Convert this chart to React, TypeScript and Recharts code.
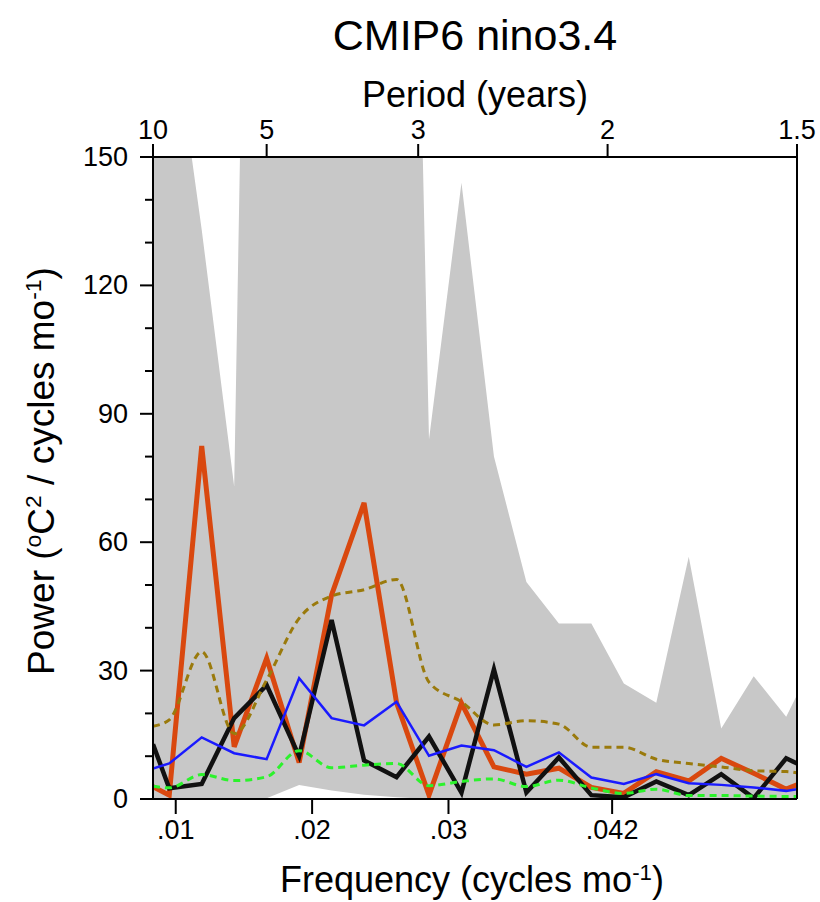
import React from 'react';
import { ComposedChart, Area, Line, XAxis, YAxis } from 'recharts';

const FONT = '"Liberation Sans", Arial, Helvetica, sans-serif';

// frequency in cycles per month, from the 10-yr edge to the 1.5-yr edge
const freq = [
  0.008333, 0.009524, 0.011905, 0.014286, 0.016667, 0.019048, 0.021429, 0.02381,
  0.02619, 0.028571, 0.030952, 0.033333, 0.035714, 0.038095, 0.040476, 0.042857,
  0.045238, 0.047619, 0.05, 0.052381, 0.054762, 0.055556,
];

// model spread (grey band)
const bandLow = [0, 0, 0, 0, 0.2, 3.3, 2, 1, 0.4, 0, 0, 0, 0, 0, 0, 0, 0, 0, 0, 0, 0, 0];
const bandHigh = [
  220, 188, 133, 73, 505, 260, 240, 280, 430, 84, 144, 80, 50.7, 41, 41, 27, 22.5, 56.6,
  16.5, 28.7, 19.2, 24.3,
];

const modelSpec = [
  2.9, 0.9, 82.5, 12.2, 32.9, 8.5, 47.7, 69.2, 22.5, 0.9, 22.4, 7.5, 5.8, 7.2, 2.7, 1.3,
  6.4, 4.2, 9.5, 6.0, 2.3, 3.3,
];
const obsSpec = [
  12.8, 2.5, 3.5, 18.9, 26.6, 10, 41.8, 9, 5.1, 14.6, 1.5, 30.3, 1.5, 9.7, 0.9, 0.4, 4.1,
  0.9, 5.8, 0.2, 9.5, 8.3,
];
const meanSpec = [
  7.1, 8.3, 14.4, 10.7, 9.3, 28.2, 18.9, 17.2, 22.7, 10.1, 12.5, 11.4, 7.5, 10.9, 5.0, 3.5,
  5.8, 3.7, 3.3, 2.7, 1.9, 2.3,
];
const redNoiseUpper = [
  17, 18.5, 34.4, 15.3, 27.8, 42.2, 47.4, 48.9, 51.3, 27.3, 22.7, 17.3, 18.3, 17.5, 12.1,
  12.1, 9.3, 8.3, 7.5, 6.6, 6.4, 6.1,
];
const redNoise = [
  3.0, 2.6, 5.7, 4.3, 5.2, 11.3, 7.3, 7.9, 8.3, 3.1, 4.1, 4.7, 2.9, 4.4, 2.6, 1.3, 2.3,
  0.8, 0.8, 0.7, 0.6, 0.6,
];

const freqTicks = [0.01, 0.02, 0.03, 0.042];
const freqTickLabels = ['.01', '.02', '.03', '.042'];
const periodTicks = [0.008333, 0.016667, 0.027778, 0.041667, 0.055556];
const periodTickLabels = ['10', '5', '3', '2', '1.5'];
const powerTicks = [0, 10, 20, 30, 40, 50, 60, 70, 80, 90, 100, 110, 120, 130, 140, 150];
const powerMajorStep = 30;

const rows = freq.map((f, i) => ({
  f,
  band: [bandLow[i], bandHigh[i]],
  modelSpec: modelSpec[i],
  obsSpec: obsSpec[i],
  meanSpec: meanSpec[i],
  redNoiseUpper: redNoiseUpper[i],
  redNoise: redNoise[i],
}));

const TICK_SIZE = 13;
const TICK_MARGIN = 12;

function PowerTick(props: any) {
  const { x, y, payload } = props;
  const major = payload.value % powerMajorStep === 0;
  const axisX = x + TICK_MARGIN + TICK_SIZE;
  return (
    <g>
      <line
        x1={axisX - (major ? TICK_SIZE : 8)}
        x2={axisX}
        y1={y}
        y2={y}
        stroke="#000"
        strokeWidth={2}
      />
      {major && (
        <text
          x={x}
          y={y}
          textAnchor="end"
          dominantBaseline="central"
          fontSize={27}
          fontFamily={FONT}
          fill="#000"
        >
          {payload.value}
        </text>
      )}
    </g>
  );
}

const sup = { baselineShift: 'super', fontSize: '62%' } as React.CSSProperties;

const topTitles = () => (
  <g fontFamily={FONT} fill="#000">
    <text x={475} y={50} textAnchor="middle" fontSize={43}>
      CMIP6 nino3.4
    </text>
    <text x={475} y={107} textAnchor="middle" fontSize={36}>
      Period (years)
    </text>
  </g>
);

const freqTitle = () => (
  <text x={472} y={892} textAnchor="middle" fontSize={36} fontFamily={FONT} fill="#000">
    Frequency (cycles mo<tspan style={sup}>-1</tspan>)
  </text>
);

const powerTitle = () => (
  <text
    x={54}
    y={471}
    transform="rotate(-90, 54, 471)"
    textAnchor="middle"
    fontSize={37}
    fontFamily={FONT}
    fill="#000"
  >
    Power (<tspan style={sup}>o</tspan>C<tspan style={sup}>2</tspan> / cycles mo
    <tspan style={sup}>-1</tspan>)
  </text>
);

const axisLine = { stroke: '#000', strokeWidth: 2 };
const tickLine = { stroke: '#000', strokeWidth: 2 };
const tickFont = { fontSize: 27, fill: '#000', fontFamily: FONT };

export default function App() {
  return (
    <div style={{ position: 'absolute', left: 0, top: 0, background: '#fff' }}>
      <ComposedChart
        width={820}
        height={902}
        data={rows}
        margin={{ top: 0, right: 22, bottom: 0, left: 0 }}
      >
        <XAxis
          dataKey="f"
          type="number"
          domain={[0.008333, 0.055556]}
          allowDataOverflow
          ticks={freqTicks}
          interval={0}
          tickFormatter={(v: number) => freqTickLabels[freqTicks.indexOf(v)] ?? ''}
          height={103}
          tickSize={15}
          tickMargin={6}
          axisLine={axisLine}
          tickLine={tickLine}
          tick={tickFont}
          label={freqTitle}
        />
        <XAxis
          xAxisId="top"
          orientation="top"
          dataKey="f"
          type="number"
          domain={[0.008333, 0.055556]}
          allowDataOverflow
          ticks={periodTicks}
          interval={0}
          tickFormatter={(v: number) => periodTickLabels[periodTicks.indexOf(v)] ?? ''}
          height={157}
          tickSize={13}
          tickMargin={5}
          axisLine={axisLine}
          tickLine={tickLine}
          tick={tickFont}
          label={topTitles}
        />
        <YAxis
          type="number"
          domain={[0, 150]}
          allowDataOverflow
          ticks={powerTicks}
          interval={0}
          width={153}
          tickSize={TICK_SIZE}
          tickMargin={TICK_MARGIN}
          axisLine={axisLine}
          tickLine={false}
          tick={PowerTick}
          label={powerTitle}
        />
        <YAxis
          yAxisId="right"
          orientation="right"
          type="number"
          domain={[0, 150]}
          width={1}
          tick={false}
          tickLine={false}
          axisLine={axisLine}
        />
        <Area
          dataKey="band"
          type="linear"
          stroke="none"
          fill="#c8c8c8"
          fillOpacity={1}
          isAnimationActive={false}
        />
        <Line
          dataKey="modelSpec"
          type="linear"
          stroke="#d9480f"
          strokeWidth={5}
          dot={false}
          isAnimationActive={false}
        />
        <Line
          dataKey="obsSpec"
          type="linear"
          stroke="#111111"
          strokeWidth={4.5}
          dot={false}
          isAnimationActive={false}
        />
        <Line
          dataKey="meanSpec"
          type="linear"
          stroke="#1a1aff"
          strokeWidth={2.5}
          dot={false}
          isAnimationActive={false}
        />
        <Line
          dataKey="redNoiseUpper"
          type="monotone"
          stroke="#9a7a0c"
          strokeWidth={3}
          strokeDasharray="7 5"
          dot={false}
          isAnimationActive={false}
        />
        <Line
          dataKey="redNoise"
          type="monotone"
          stroke="#2cf22c"
          strokeWidth={3}
          strokeDasharray="7 5"
          dot={false}
          isAnimationActive={false}
        />
      </ComposedChart>
    </div>
  );
}
